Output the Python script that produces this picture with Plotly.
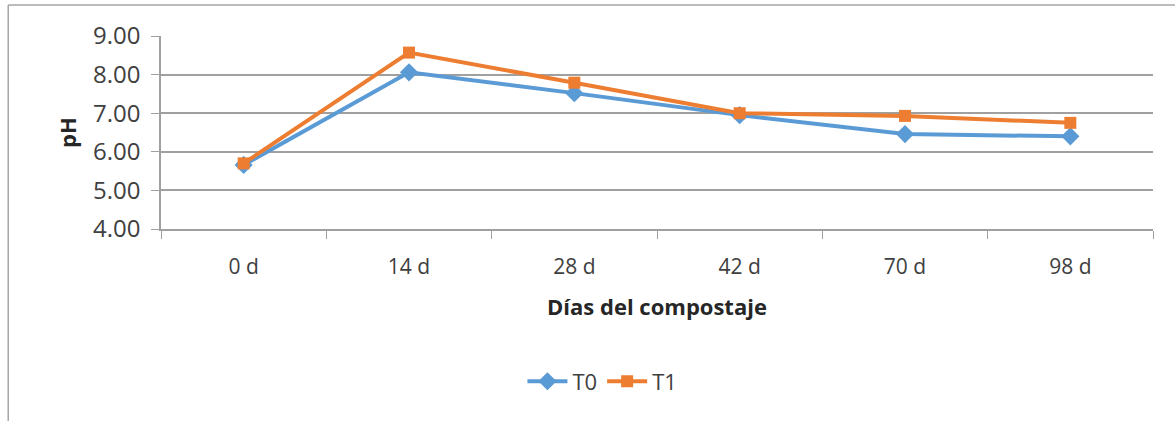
import plotly.graph_objects as go

dias = ["0 d", "14 d", "28 d", "42 d", "70 d", "98 d"]
ph_t0 = [5.66, 8.06, 7.52, 6.95, 6.46, 6.40]
ph_t1 = [5.70, 8.57, 7.79, 7.00, 6.93, 6.75]
y_ticks = [4, 5, 6, 7, 8, 9]

FONT = "Open Sans, DejaVu Sans, sans-serif"
GRID = "#a0a0a0"

fig = go.Figure()
fig.add_trace(go.Scatter(
    x=dias, y=ph_t0, name="T0", mode="lines+markers",
    line=dict(color="#5B9BD5", width=4),
    marker=dict(symbol="diamond", size=14, color="#5B9BD5"),
))
fig.add_trace(go.Scatter(
    x=dias, y=ph_t1, name="T1", mode="lines+markers",
    line=dict(color="#ED7D31", width=4),
    marker=dict(symbol="square", size=12, color="#ED7D31"),
))

fig.update_layout(
    width=1175, height=421,
    margin=dict(l=161, r=22, t=36, b=192),
    paper_bgcolor="white", plot_bgcolor="white",
    font=dict(family=FONT, color="#404040"),
    showlegend=True,
    legend=dict(
        orientation="h", x=0.445, xanchor="center", y=-0.79, yanchor="middle",
        font=dict(size=22, color="#404040"), itemwidth=40,
    ),
    xaxis=dict(
        type="category", range=[-0.5, len(dias) - 0.5],
        tickson="boundaries", ticks="outside", ticklen=8,
        tickcolor=GRID, showline=True, linecolor=GRID, linewidth=1.5,
        showgrid=False, tickfont=dict(size=21, color="#404040"),
        ticklabelstandoff=18,
        title=dict(text="<b>Días del compostaje</b>", font=dict(size=22, color="#262626"), standoff=21),
    ),
    yaxis=dict(
        range=[4, 9], tickvals=y_ticks, tickformat=".2f",
        ticks="outside", ticklen=8, tickcolor=GRID,
        showline=True, linecolor=GRID, linewidth=1.5,
        showgrid=True, gridcolor=GRID, gridwidth=1.5, zeroline=False,
        tickfont=dict(size=24, color="#404040"),
        ticklabelstandoff=6,
        title=dict(text="<b>pH</b>", font=dict(size=22, color="#262626"), standoff=10),
    ),
    shapes=[
        dict(type="line", xref="paper", yref="paper",
             x0=-0.154, x1=-0.154, y0=1.16, y1=-1.0,
             line=dict(color="#a6a6a6", width=1.5)),
        dict(type="line", xref="paper", yref="paper",
             x0=-0.154, x1=1.03, y0=1.16, y1=1.16,
             line=dict(color="#a6a6a6", width=1.5)),
    ],
)

fig.write_html("out.html")
